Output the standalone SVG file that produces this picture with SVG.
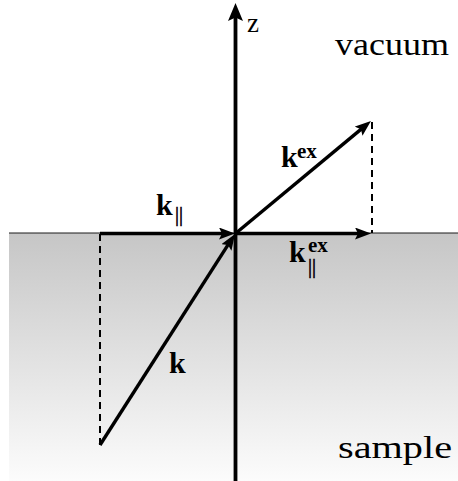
<svg xmlns="http://www.w3.org/2000/svg" width="458" height="481" viewBox="0 0 458 481">
  <style>
    .vec { stroke:#000; stroke-width:3.4; fill:none; }
    .axis { stroke:#000; stroke-width:3.8; fill:none; }
    .dash { stroke:#000; stroke-width:2; stroke-dasharray:7,5; fill:none; }
    .lbl { font-family:"Liberation Serif","Times New Roman",serif; fill:#000; }
    .bold { font-family:"Liberation Serif","Times New Roman",serif; font-weight:bold; fill:#000; }
    .bars { font-family:"Liberation Serif","Times New Roman",serif; fill:#000; stroke:#000; stroke-width:0.5; }
  </style>
  <defs>
    <linearGradient id="sampleGrad" x1="0" y1="0" x2="0" y2="1">
      <stop offset="0" stop-color="#c6c6c6"/>
      <stop offset="1" stop-color="#fcfcfc"/>
    </linearGradient>
    <marker id="ah" markerUnits="userSpaceOnUse" markerWidth="18" markerHeight="14" refX="8" refY="6" orient="auto">
      <path d="M16,6 L0,0 L3,6 L0,12 Z" fill="#000"/>
    </marker>
    <marker id="ahz" markerUnits="userSpaceOnUse" markerWidth="20" markerHeight="16" refX="9" refY="7.5" orient="auto">
      <path d="M18,7.5 L0,0 L3.5,7.5 L0,15 Z" fill="#000"/>
    </marker>
  </defs>

  <g id="sample-region">
    <rect x="9" y="233" width="449" height="248" fill="url(#sampleGrad)"/>
    <line x1="9" y1="233" x2="458" y2="233" stroke="#1a1a1a" stroke-width="1"/>
  </g>

  <g id="connectors">
    <line class="dash" x1="100" y1="234" x2="100" y2="445"/>
    <line class="dash" x1="372" y1="122" x2="372" y2="233"/>
    <line class="axis" x1="235.5" y1="481" x2="235.5" y2="12" marker-end="url(#ahz)"/>
    <line class="vec" x1="100" y1="233.5" x2="227" y2="233.5" marker-end="url(#ah)"/>
    <line class="vec" x1="235.5" y1="233.5" x2="363" y2="233.5" marker-end="url(#ah)"/>
    <line class="vec" x1="235.5" y1="233.5" x2="364.8" y2="126.1" marker-end="url(#ah)"/>
    <line class="vec" x1="100" y1="445" x2="230.7" y2="240.7" marker-end="url(#ah)"/>
  </g>

  <g id="label-z"><text class="lbl" x="247" y="32" font-size="27">z</text></g>
  <g id="label-vacuum"><text class="lbl" x="335" y="55" font-size="32" textLength="114" lengthAdjust="spacingAndGlyphs">vacuum</text></g>
  <g id="label-sample"><text class="lbl" x="338" y="458" font-size="32" textLength="114" lengthAdjust="spacingAndGlyphs">sample</text></g>

  <g id="label-k-par">
    <text class="bold" x="156" y="215" font-size="30">k</text>
    <text class="bars" x="175" y="221" font-size="20">||</text>
  </g>
  <g id="label-k-ex">
    <text class="bold" x="281" y="167" font-size="30">k</text>
    <text class="bold" x="297" y="158" font-size="21">ex</text>
  </g>
  <g id="label-k-par-ex">
    <text class="bold" x="289" y="262" font-size="30">k</text>
    <text class="bold" x="308" y="252" font-size="21">ex</text>
    <text class="bars" x="308" y="273" font-size="20">||</text>
  </g>
  <g id="label-k">
    <text class="bold" x="169" y="373" font-size="30">k</text>
  </g>
</svg>
